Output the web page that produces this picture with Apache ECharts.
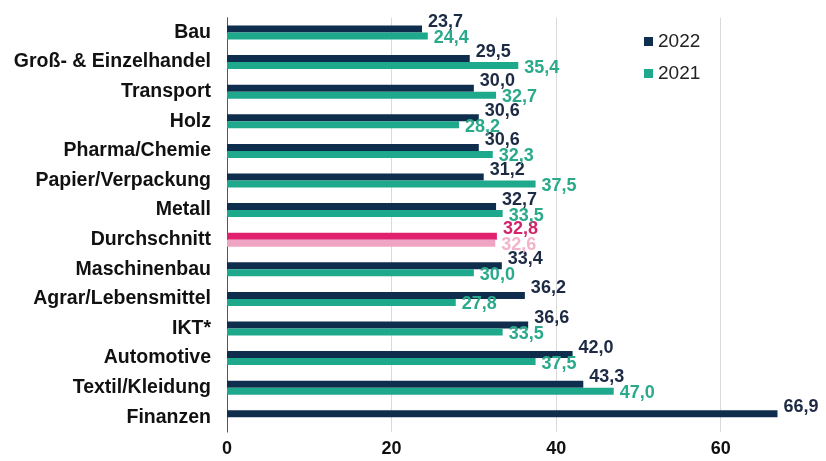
<!DOCTYPE html>
<html>
<head>
<meta charset="utf-8">
<script src="https://cdn.jsdelivr.net/npm/echarts@6/dist/echarts.min.js"></script>
<style>
  html, body { margin: 0; padding: 0; background: #fff; }
  #chart { width: 826px; height: 461px; }
</style>
</head>
<body>
<div id="chart"></div>
<script>
var branchen = ['Bau', 'Groß- & Einzelhandel', 'Transport', 'Holz', 'Pharma/Chemie',
  'Papier/Verpackung', 'Metall', 'Durchschnitt', 'Maschinenbau', 'Agrar/Lebensmittel',
  'IKT*', 'Automotive', 'Textil/Kleidung', 'Finanzen'];
var werte2022 = [23.7, 29.5, 30.0, 30.6, 30.6, 31.2, 32.7, 32.8, 33.4, 36.2, 36.6, 42.0, 43.3, 66.9];
var werte2021 = [24.4, 35.4, 32.7, 28.2, 32.3, 37.5, 33.5, 32.6, 30.0, 27.8, 33.5, 37.5, 47.0, null];
var xMin = 0, xMax = 70, xStep = 20;   // sichtbare Ticks: 0, 20, 40, 60

var SCHNITT = branchen.indexOf('Durchschnitt');

function fmt(p) {
  return p.value == null ? '' : p.value.toFixed(1).replace('.', ',');
}

// Durchschnitt bekommt eigene Farben (pink)
function baueDaten(arr, barColor, labelColor) {
  return arr.map(function (v, i) {
    if (i !== SCHNITT) return v;
    return { value: v, itemStyle: { color: barColor }, label: { color: labelColor } };
  });
}

var myChart = echarts.init(document.getElementById('chart'));
var option = {
  animation: false,
  grid: { left: 227, right: 23, top: 17.7, bottom: 28.9, containLabel: false },
  legend: {
    orient: 'vertical',
    left: 639,
    top: 27,
    itemWidth: 9,
    itemHeight: 9,
    itemGap: 13,
    icon: 'rect',
    textStyle: { fontFamily: 'Liberation Sans', fontSize: 19, color: '#222' },
    data: ['2022', '2021']
  },
  xAxis: {
    type: 'value',
    min: xMin,
    max: xMax,
    interval: xStep,
    axisLine: { show: false },
    axisTick: { show: false },
    splitLine: { show: true, showMaxLine: false, lineStyle: { color: '#d9d9d9', width: 1 } },
    axisLabel: {
      margin: 8,
      showMaxLabel: false,
      fontFamily: 'Liberation Sans',
      fontWeight: 'bold',
      fontSize: 18,
      color: '#111'
    }
  },
  yAxis: {
    type: 'category',
    inverse: true,
    data: branchen,
    axisLine: { show: true, lineStyle: { color: '#555', width: 1 } },
    axisTick: { show: false },
    axisLabel: {
      margin: 16,
      fontFamily: 'Liberation Sans',
      fontWeight: 'bold',
      fontSize: 19.5,
      color: '#111'
    }
  },
  series: [
    {
      name: '2022',
      type: 'bar',
      barWidth: 7,
      barGap: '0%',
      color: '#0f2d4c',
      data: baueDaten(werte2022, '#e0216e', '#d4236a'),
      label: {
        show: true,
        position: 'right',
        distance: 6,
        offset: [0, -7],
        formatter: fmt,
        fontFamily: 'Liberation Sans',
        fontWeight: 'bold',
        fontSize: 18,
        color: '#1c2a44'
      }
    },
    {
      name: '2021',
      type: 'bar',
      barWidth: 7,
      barGap: '0%',
      color: '#1fa98c',
      data: baueDaten(werte2021, '#f0a4c3', '#f2b3cb'),
      label: {
        show: true,
        position: 'right',
        distance: 6,
        offset: [0, 2],
        formatter: fmt,
        fontFamily: 'Liberation Sans',
        fontWeight: 'bold',
        fontSize: 18,
        color: '#2aa98b'
      }
    }
  ]
};
myChart.setOption(option);
</script>
</body>
</html>
